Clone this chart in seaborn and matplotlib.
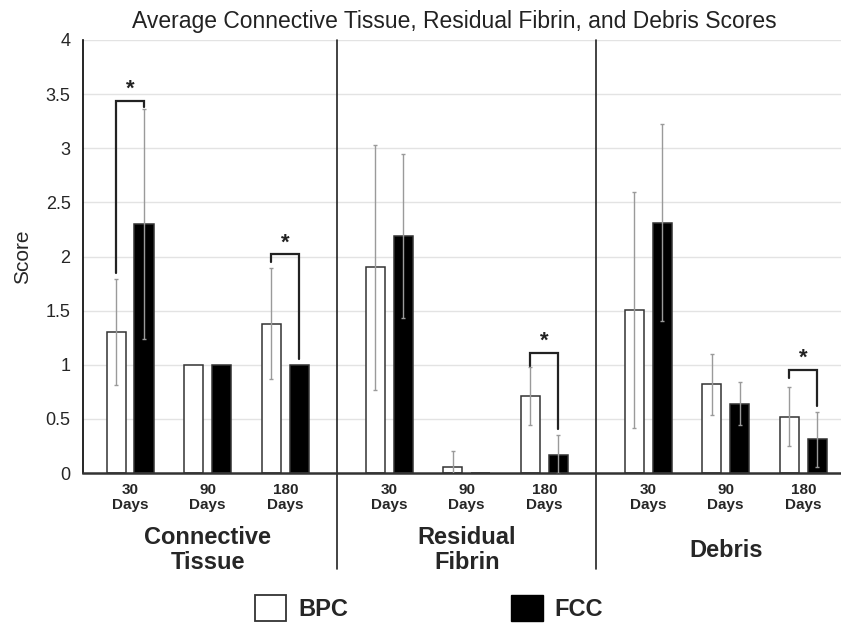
import pandas as pd
import matplotlib.pyplot as plt
import seaborn as sns
from matplotlib.patches import Patch

# Scores
categories = ["Connective\nTissue", "Residual\nFibrin", "Debris"]
timepoints = ["30\nDays", "90\nDays", "180\nDays"]
groups = ["BPC", "FCC"]

bpc_mean = [1.30, 1.00, 1.38, 1.90, 0.06, 0.71, 1.51, 0.82, 0.52]
bpc_err = [0.49, 0.00, 0.51, 1.13, 0.14, 0.27, 1.09, 0.28, 0.275]
fcc_mean = [2.30, 1.00, 1.00, 2.19, 0.00, 0.17, 2.31, 0.64, 0.31]
fcc_err = [1.06, 0.00, 0.00, 0.76, 0.00, 0.18, 0.91, 0.20, 0.25]

# significance brackets: bar index, top, left leg end, right leg end
sig_index = [0, 2, 5, 8]
sig_top = [3.44, 2.02, 1.11, 0.95]
sig_left = [1.85, 1.95, 0.99, 0.88]
sig_right = [3.38, 1.05, 0.41, 0.62]

# Build long table, categories spaced out a bit
cat_step = 3 + 1 / 3
rows = []
for c in range(len(categories)):
    for t in range(len(timepoints)):
        i = c * 3 + t
        pos = c * cat_step + t
        rows.append({"pos": pos, "group": "BPC", "score": bpc_mean[i]})
        rows.append({"pos": pos, "group": "FCC", "score": fcc_mean[i]})
df = pd.DataFrame(rows)
positions = sorted(df["pos"].unique())

sns.set_style("white")
plt.rcParams["font.family"] = ["Liberation Sans", "DejaVu Sans"]

fig = plt.figure(figsize=(8.41, 6.25), dpi=100)
ax = fig.add_axes([0.0987, 0.2432, 0.9013, 0.6928])

sns.barplot(data=df, x="pos", y="score", hue="group", native_scale=True,
            palette={"BPC": "white", "FCC": "black"}, edgecolor="#333333",
            linewidth=1.1, width=0.72, gap=0.32, errorbar=None, legend=False, ax=ax)

# error bars from the drawn bars
bars = [p for p in ax.patches]
bpc_bars = sorted(bars[:9], key=lambda p: p.get_x())
fcc_bars = sorted(bars[9:18], key=lambda p: p.get_x())
bpc_x = [p.get_x() + p.get_width() / 2 for p in bpc_bars]
fcc_x = [p.get_x() + p.get_width() / 2 for p in fcc_bars]
for xs, m, e in [(bpc_x, bpc_mean, bpc_err), (fcc_x, fcc_mean, fcc_err)]:
    for x, mv, ev in zip(xs, m, e):
        if ev > 0:
            ax.errorbar(x, mv, yerr=ev, color="#9a9a9a", lw=1, capsize=1.5,
                        capthick=1, zorder=4)

# significance brackets
for i, top, lft, rgt in zip(sig_index, sig_top, sig_left, sig_right):
    x0, x1 = bpc_x[i], fcc_x[i]
    ax.plot([x0, x0, x1, x1], [lft, top, top, rgt], color="#222222", lw=1.6,
            zorder=5, solid_joinstyle="miter")
    ax.text((x0 + x1) / 2, top + 0.01, "*", ha="center", va="bottom",
            fontsize=16, fontweight="bold", color="#222222")

ax.set_xlim(-0.605, 9.15)
ax.set_ylim(0, 4)
ax.set_yticks([0, 0.5, 1, 1.5, 2, 2.5, 3, 3.5, 4])
ax.set_yticklabels(["0", "0.5", "1", "1.5", "2", "2.5", "3", "3.5", "4"])
ax.set_xticks(positions)
ax.set_xticklabels(timepoints * 3, fontweight="bold", fontsize=11, linespacing=1.15)
ax.tick_params(axis="x", length=0, pad=7)
ax.tick_params(axis="y", length=0, pad=9, labelsize=13)
ax.set_xlabel("")
ax.set_ylabel("Score", fontsize=15, labelpad=10)

ax.yaxis.grid(True, color="#e3e3e3", lw=1)
ax.set_axisbelow(True)
for s in ["top", "right"]:
    ax.spines[s].set_visible(False)
ax.spines["left"].set_color("black")
ax.spines["left"].set_linewidth(1.2)
ax.spines["bottom"].set_color("#333333")
ax.spines["bottom"].set_linewidth(1.8)

# separators between categories
for c in range(1, len(categories)):
    xsep = (positions[c * 3 - 1] + positions[c * 3]) / 2
    ax.axvline(xsep, ymin=-0.222, ymax=1, color="#222222", lw=1.2, clip_on=False)

# category labels
for c, name in enumerate(categories):
    xc = positions[c * 3 + 1]
    ax.text(xc, -0.178, name, transform=ax.get_xaxis_transform(), ha="center",
            va="center", fontsize=17, fontweight="bold", linespacing=1.1)

fig.text(0.54, 0.966, "Average Connective Tissue, Residual Fibrin, and Debris Scores",
         ha="center", va="center", fontsize=16.5, color="#222222")

handles = [Patch(facecolor="white", edgecolor="#333333", lw=1.3),
           Patch(facecolor="black", edgecolor="black")]
fig.legend(handles, groups, loc="center", bbox_to_anchor=(0.51, 0.027), ncol=2,
           frameon=False, prop={"weight": "bold", "size": 17}, handlelength=1.35,
           handleheight=1.35, handletextpad=0.5, columnspacing=6.9)

fig.savefig("out.png", dpi=100)
